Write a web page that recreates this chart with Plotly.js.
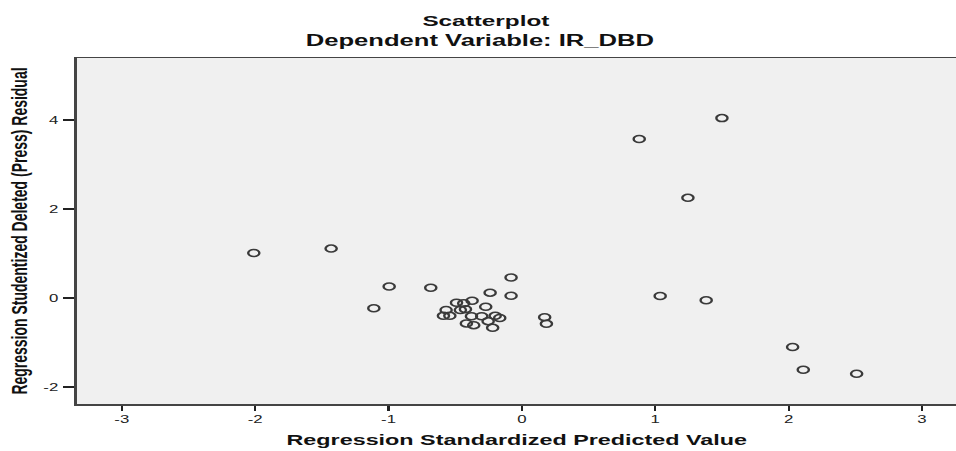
<!DOCTYPE html>
<html>
<head>
<meta charset="utf-8">
<script src="https://cdn.plot.ly/plotly-3.0.1.min.js"></script>
<style>
  html, body { margin: 0; padding: 0; background: #ffffff; overflow: hidden; }
  #wrap { width: 956px; height: 451px; overflow: hidden; position: relative; }
  #chart { width: 598px; height: 451px; transform: scaleX(1.6); transform-origin: 0 0; }
</style>
</head>
<body>
<div id="wrap"><div id="chart"></div></div>
<script>
// Regression Standardized Predicted Value
var predicted = [1.50, 0.88, 1.245, 1.037, 1.382, 2.03, 2.11, 2.51,
  -2.01, -1.43, -0.995, -1.11, -0.683, -0.081, -0.238, -0.081, 0.171, 0.184,
  -0.49, -0.436, -0.373, -0.271, -0.568, -0.461, -0.423, -0.588, -0.54,
  -0.378, -0.301, -0.20, -0.166, -0.253, -0.416, -0.361, -0.219];
// Regression Studentized Deleted (Press) Residual
var residual = [4.04, 3.57, 2.25, 0.045, -0.05, -1.10, -1.61, -1.70,
  1.01, 1.11, 0.26, -0.23, 0.23, 0.46, 0.12, 0.05, -0.43, -0.58,
  -0.105, -0.12, -0.06, -0.195, -0.27, -0.27, -0.25, -0.40, -0.40,
  -0.41, -0.41, -0.40, -0.45, -0.52, -0.57, -0.61, -0.67];
var xTicks = [-3, -2, -1, 0, 1, 2, 3];
var yTicks = [-2, 0, 2, 4];

var FONT = "Liberation Sans, Arial, sans-serif";

var trace = {
  type: 'scatter',
  mode: 'markers',
  x: predicted,
  y: residual,
  marker: { symbol: 'circle-open', size: 7, color: '#3a3a3a', line: { width: 1.5, color: '#3a3a3a' } },
  hoverinfo: 'skip'
};

var layout = {
  width: 598,
  height: 451,
  margin: { l: 47.5, r: 0, t: 58, b: 47 },
  paper_bgcolor: '#ffffff',
  plot_bgcolor: '#f0f0f0',
  showlegend: false,
  font: { family: FONT, color: '#222222' },
  xaxis: {
    range: [-3.337, 3.261],
    tickvals: xTicks,
    ticktext: xTicks.map(String),
    showgrid: false,
    zeroline: false,
    showline: true,
    mirror: true,
    linecolor: '#444444',
    linewidth: 1.5,
    ticks: 'outside',
    ticklen: 5,
    tickwidth: 1.3,
    tickcolor: '#222222',
    tickfont: { family: FONT, size: 10.5, color: '#222222' },
    title: { text: '<b>Regression Standardized Predicted Value</b>', font: { family: FONT, size: 14.6, color: '#111111' }, standoff: 10 }
  },
  yaxis: {
    range: [-2.38, 5.39],
    tickvals: yTicks,
    ticktext: yTicks.map(String),
    showgrid: false,
    zeroline: false,
    showline: true,
    mirror: false,
    linecolor: '#444444',
    linewidth: 1.5,
    ticks: 'outside',
    ticklen: 7,
    tickwidth: 1.3,
    tickcolor: '#222222',
    ticklabelstandoff: 1,
    tickfont: { family: FONT, size: 10.5, color: '#222222' },
    title: { text: '<b>Regression Studentized Deleted (Press) Residual</b>', font: { family: FONT, size: 14, color: '#111111' }, standoff: 6 }
  },
  annotations: [
    { text: '<b>Scatterplot</b>', xref: 'paper', yref: 'paper', x: 0.4643, y: 1.1098,
      xanchor: 'center', yanchor: 'middle', showarrow: false,
      font: { family: FONT, size: 15.2, color: '#111111' } },
    { text: '<b>Dependent Variable: IR_DBD</b>', xref: 'paper', yref: 'paper', x: 0.4587, y: 1.052,
      xanchor: 'center', yanchor: 'middle', showarrow: false,
      font: { family: FONT, size: 16, color: '#111111' } }
  ]
};

Plotly.newPlot('chart', [trace], layout, { staticPlot: true, displayModeBar: false });
</script>
</body>
</html>
